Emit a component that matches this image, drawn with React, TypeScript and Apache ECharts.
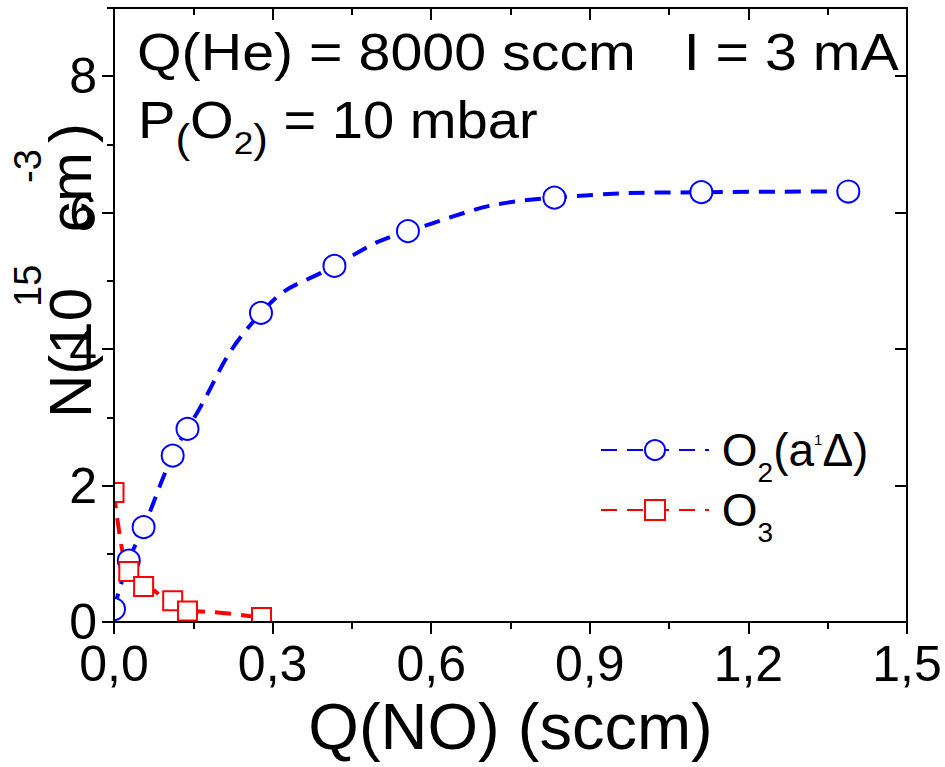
import React, { useEffect, useRef } from 'react';
import * as echarts from 'echarts';

// ---- data ----
const qNO_O2 = [0, 0.028, 0.056, 0.111, 0.139, 0.278, 0.417, 0.556, 0.833, 1.111, 1.389];
const nO2 = [0.19, 0.9, 1.39, 2.44, 2.83, 4.53, 5.22, 5.73, 6.22, 6.3, 6.31];
const qNO_O3 = [0, 0.028, 0.056, 0.111, 0.139, 0.279];
const nO3 = [1.9, 0.74, 0.52, 0.31, 0.16, 0.066];
const yMajorTicks = [0, 2, 4, 6, 8];
const yMinorTicks = [1, 3, 5, 7, 9];
const seriesNames = ['O2(a1Δ)', 'O3'];
const xAxisTitle = 'Q(NO) (sccm)';
const noteLine1 = 'Q(He) = 8000 sccm   I = 3 mA';

const FONT = "'Liberation Sans', Arial, Helvetica, sans-serif";
const BLUE = '#0000ff';
const RED = '#ff0000';

export default function App() {
  const ref = useRef<HTMLDivElement>(null);

  useEffect(() => {
    if (!ref.current) return;
    const chart = echarts.init(ref.current, undefined, { renderer: 'svg' });

    const lineBlack = { color: '#000', width: 2 };
    const AXIS_Z = 60;
    const xBase = {
      type: 'value',
      min: 0,
      max: 1.5,
      interval: 0.3,
      splitLine: { show: false },
      minorSplitLine: { show: false },
      axisLine: { show: true, onZero: false, lineStyle: lineBlack },
      z: AXIS_Z,
    };
    const yBase = {
      type: 'value',
      min: 0,
      max: 9,
      interval: 1,
      splitLine: { show: false },
      minorSplitLine: { show: false },
      z: AXIS_Z,
    };

    const option: any = {
      animation: false,
      textStyle: { fontFamily: FONT },
      grid: { left: 114, right: 38, top: 8, bottom: 145, containLabel: false },
      xAxis: [
        {
          ...xBase,
          position: 'bottom',
          axisTick: { show: true, inside: false, length: 12, lineStyle: lineBlack },
          minorTick: { show: true, splitNumber: 2, length: 7, lineStyle: lineBlack },
          axisLabel: {
            show: true,
            color: '#000',
            fontSize: 50,
            lineHeight: 40,
            fontFamily: FONT,
            margin: 22,
            formatter: (v: number) => v.toFixed(1).replace('.', ','),
          },
          name: xAxisTitle,
          nameLocation: 'middle',
          nameGap: 55,
          nameTextStyle: { color: '#000', fontSize: 65, fontFamily: FONT },
        },
        {
          ...xBase,
          position: 'top',
          axisTick: { show: true, inside: true, length: 12, lineStyle: lineBlack },
          minorTick: { show: true, splitNumber: 2, length: 7, lineStyle: lineBlack },
          axisLabel: { show: false },
        },
      ],
      yAxis: [
        {
          ...yBase,
          position: 'left',
          axisLine: { show: true, onZero: false, lineStyle: lineBlack },
          axisTick: { show: true, inside: false, length: 12, lineStyle: lineBlack, customValues: yMajorTicks },
          axisLabel: {
            show: true,
            color: '#000',
            fontSize: 50,
            lineHeight: 40,
            fontFamily: FONT,
            margin: 17,
            customValues: yMajorTicks,
          },
        },
        {
          ...yBase,
          position: 'left',
          axisLine: { show: false },
          axisTick: { show: true, inside: false, length: 7, lineStyle: lineBlack, customValues: yMinorTicks },
          axisLabel: { show: false },
        },
        {
          ...yBase,
          position: 'right',
          axisLine: { show: true, onZero: false, lineStyle: lineBlack },
          axisTick: { show: true, inside: true, length: 12, lineStyle: lineBlack, customValues: yMajorTicks },
          axisLabel: { show: false },
        },
        {
          ...yBase,
          position: 'right',
          axisLine: { show: false },
          axisTick: { show: true, inside: true, length: 7, lineStyle: lineBlack, customValues: yMinorTicks },
          axisLabel: { show: false },
        },
      ],
      legend: {
        orient: 'vertical',
        left: 595,
        top: 409,
        itemWidth: 108,
        itemHeight: 25,
        itemGap: 1,
        selectedMode: false,
        data: seriesNames,
        formatter: (name: string) =>
          name === seriesNames[0]
            ? '{gap| }{m|O}{sub|2}{m|(a}{sup|1}{m|Δ)}'
            : '{gap| }{m|O}{sub|3}',
        textStyle: {
          color: '#000',
          fontFamily: FONT,
          rich: {
            gap: { fontSize: 28, lineHeight: 28, verticalAlign: 'middle', fontFamily: FONT },
            m: { fontSize: 46, lineHeight: 72, verticalAlign: 'middle', color: '#000', fontFamily: FONT },
            sub: { fontSize: 28, lineHeight: 28, verticalAlign: 'bottom', color: '#000', fontFamily: FONT },
            sup: { fontSize: 15, lineHeight: 15, verticalAlign: 'top', padding: [18, 0, 0, 0], color: '#000', fontFamily: FONT },
          },
        },
      },
      series: [
        {
          name: seriesNames[0],
          type: 'line',
          xAxisIndex: 0,
          yAxisIndex: 0,
          data: qNO_O2.map((x, i) => [x, nO2[i]]),
          smooth: 0.5,
          symbol: 'emptyCircle',
          symbolSize: 22,
          showAllSymbol: true,
          lineStyle: { color: BLUE, width: 4, type: [16, 10] },
          itemStyle: { color: BLUE, borderColor: BLUE, borderWidth: 2 },
          z: 2,
        },
        {
          name: seriesNames[1],
          type: 'line',
          xAxisIndex: 0,
          yAxisIndex: 0,
          data: qNO_O3.map((x, i) => [x, nO3[i]]),
          smooth: 0.4,
          smoothMonotone: 'x',
          symbol: 'emptyRect',
          symbolSize: 19,
          showAllSymbol: true,
          lineStyle: { color: RED, width: 4, type: [16, 10] },
          itemStyle: { color: RED, borderColor: RED, borderWidth: 1.6 },
          z: 2,
        },
      ],
      graphic: {
        elements: [
          // masks that clip symbols overflowing the plot frame (axes drawn above them)
          { type: 'rect', z: 50, silent: true, shape: { x: 96, y: 440, width: 17, height: 200 }, style: { fill: '#fff' } },
          { type: 'rect', z: 50, silent: true, shape: { x: 96, y: 623, width: 820, height: 14 }, style: { fill: '#fff' } },
          // annotation
          {
            type: 'text',
            z: 70,
            x: 137,
            y: 53,
            scaleX: 1.125,
            style: {
              text: noteLine1,
              fontSize: 51,
              fontFamily: FONT,
              fill: '#000',
              align: 'left',
              verticalAlign: 'middle',
            },
          },
          {
            type: 'text',
            z: 70,
            x: 138,
            y: 120,
            scaleX: 1.1,
            style: {
              text: '{m|P}{p|(}{m|O}{s|2}{p|)}{m| = 10 mbar}',
              fontSize: 51,
              fontFamily: FONT,
              fill: '#000',
              align: 'left',
              verticalAlign: 'middle',
              rich: {
                m: { fontSize: 51, lineHeight: 78, verticalAlign: 'middle', fontFamily: FONT, fill: '#000' },
                p: { fontSize: 40, lineHeight: 56, verticalAlign: 'bottom', fontFamily: FONT, fill: '#000' },
                s: { fontSize: 32, lineHeight: 36, verticalAlign: 'bottom', fontFamily: FONT, fill: '#000' },
              },
            },
          },
          // rotated y-axis title
          {
            type: 'group',
            x: 70,
            y: 420,
            rotation: Math.PI / 2,
            children: [
              { type: 'text', z: 70, x: 2, y: 0, style: { text: 'N(10', fontSize: 60, fontFamily: FONT, fill: '#000', align: 'left', verticalAlign: 'middle' } },
              { type: 'text', z: 70, x: 113, y: -42, style: { text: '15', fontSize: 38, fontFamily: FONT, fill: '#000', align: 'left', verticalAlign: 'middle' } },
              { type: 'text', z: 70, x: 188, y: 0, style: { text: 'cm', fontSize: 60, fontFamily: FONT, fill: '#000', align: 'left', verticalAlign: 'middle' } },
              { type: 'text', z: 70, x: 237, y: -42, style: { text: '-3', fontSize: 38, fontFamily: FONT, fill: '#000', align: 'left', verticalAlign: 'middle' } },
              { type: 'text', z: 70, x: 277, y: 0, style: { text: ')', fontSize: 60, fontFamily: FONT, fill: '#000', align: 'left', verticalAlign: 'middle' } },
            ],
          },
        ],
      },
    };

    chart.setOption(option);
    return () => chart.dispose();
  }, []);

  return (
    <div
      ref={ref}
      style={{ position: 'absolute', left: 0, top: 0, width: 945, height: 767, background: '#fff' }}
    />
  );
}
